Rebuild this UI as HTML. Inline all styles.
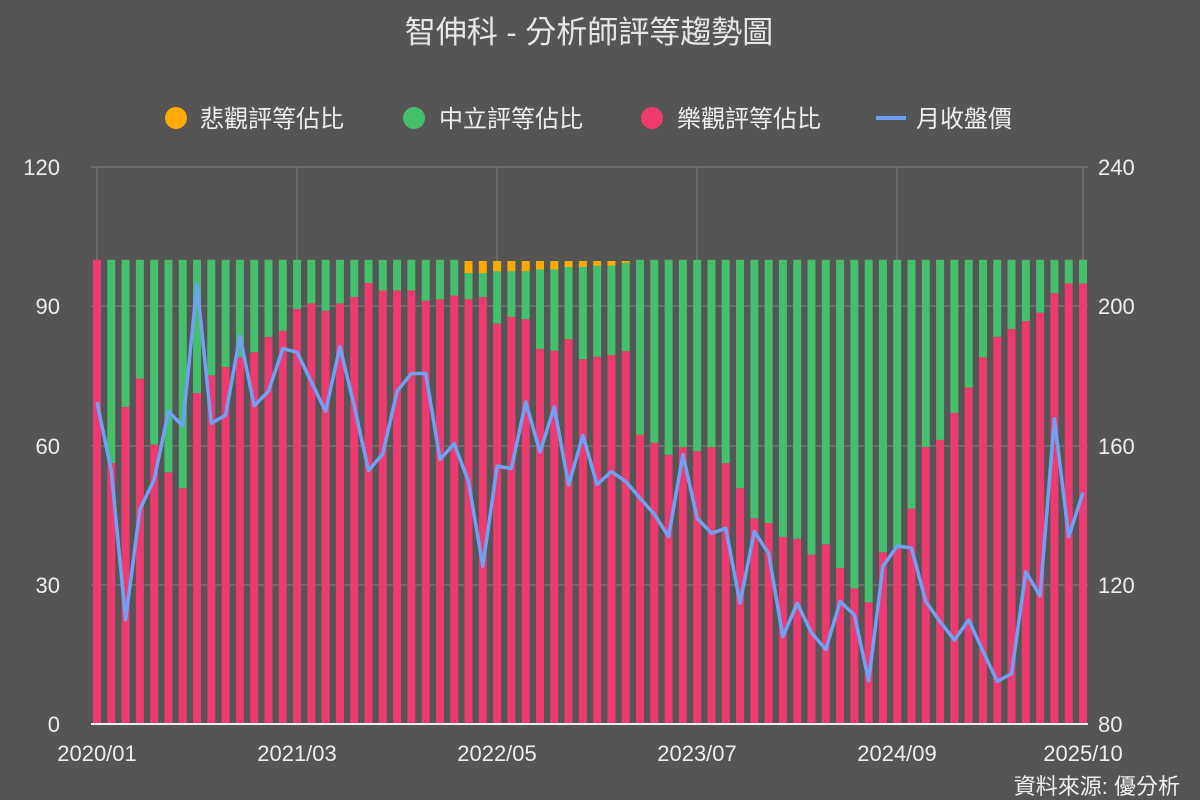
<!DOCTYPE html>
<html><head><meta charset="utf-8"><style>
html,body{margin:0;padding:0;background:#555555;}
svg{display:block;font-family:"Liberation Sans","Noto Sans CJK TC",sans-serif;}
</style></head><body>
<svg id="c" width="1200" height="800" xmlns="http://www.w3.org/2000/svg">
<rect width="1200" height="800" fill="#555555"/>
<text x="589" y="43" fill="#e6e6e6" font-size="31" text-anchor="middle">智伸科 - 分析師評等趨勢圖</text>
<circle cx="176" cy="118" r="11" fill="#ffaa00"/>
<text x="200" y="127" fill="#eeeeee" font-size="24">悲觀評等佔比</text>
<circle cx="414" cy="118" r="11" fill="#44bf6c"/>
<text x="439" y="127" fill="#eeeeee" font-size="24">中立評等佔比</text>
<circle cx="652" cy="118" r="11" fill="#ee3a6f"/>
<text x="677" y="127" fill="#eeeeee" font-size="24">樂觀評等佔比</text>
<line x1="876" y1="118" x2="906" y2="118" stroke="#6fa2f7" stroke-width="4"/>
<text x="916" y="127" fill="#eeeeee" font-size="24">月收盤價</text>
<g id="grid" stroke="#7a7a7a" stroke-width="1.2"></g>
<g id="bars"></g>
<g id="ln"></g>
<line x1="91" y1="724" x2="1088" y2="724" stroke="#f0f0f0" stroke-width="2"/>
<g fill="#eeeeee" font-size="22">
<text x="60" y="732" text-anchor="end">0</text>
<text x="60" y="593" text-anchor="end">30</text>
<text x="60" y="454" text-anchor="end">60</text>
<text x="60" y="314" text-anchor="end">90</text>
<text x="60" y="175" text-anchor="end">120</text>
<text x="1098" y="732">80</text>
<text x="1098" y="593">120</text>
<text x="1098" y="454">160</text>
<text x="1098" y="314">200</text>
<text x="1098" y="175">240</text>
<text x="97" y="761" text-anchor="middle">2020/01</text>
<text x="297" y="761" text-anchor="middle">2021/03</text>
<text x="497" y="761" text-anchor="middle">2022/05</text>
<text x="697" y="761" text-anchor="middle">2023/07</text>
<text x="897" y="761" text-anchor="middle">2024/09</text>
<text x="1083" y="761" text-anchor="middle">2025/10</text>
</g>
<text x="1180" y="794" fill="#eeeeee" font-size="22" text-anchor="end">資料來源: 優分析</text>
</svg>
<script>
var bull=[100,56.2,68.3,74.4,60.2,54.2,50.8,71.3,75.1,76.9,79,80.1,83.4,84.7,89.4,90.6,89.0,90.6,92.0,95.0,93.4,93.4,93.4,91.2,91.5,92.3,91.5,92.0,86.3,87.7,87.2,80.8,80.4,82.9,78.6,79.1,79.5,80.3,62.3,60.6,58.0,59.6,58.8,59.6,56.2,50.8,44.3,43.3,40.3,39.9,36.5,38.7,33.6,29.2,26.2,37.0,37.9,46.4,59.7,61.2,67.0,72.5,79.0,83.4,85.1,86.8,88.6,92.8,94.9,94.9];
var bear={26:2.6,27:2.6,28:2.2,29:2.2,30:2.2,31:1.8,32:1.8,33:1.3,34:1.3,35:1.0,36:1.0,37:0.4};
var px=[172.5,152.8,109.9,141.7,150.2,169.8,165.6,206.4,166.4,168.7,191.5,171.4,175.6,187.8,186.8,178.3,169.8,188.4,171.4,152.8,157.6,175.6,180.7,180.7,156.0,160.5,149.7,125.3,154.1,153.4,172.5,158.1,171.1,148.6,162.9,148.8,152.5,149.7,144.9,140.3,133.8,157.4,139.1,134.8,136.2,114.7,135.3,129.0,105.1,114.7,106.2,101.4,115.2,111.3,92.4,125.3,131.1,130.6,115.2,109.4,104.1,109.9,100.9,92.2,94.5,123.7,116.8,167.7,133.8,146.5];
var NS="http://www.w3.org/2000/svg";
function el(p,t,a){var e=document.createElementNS(NS,t);for(var k in a)e.setAttribute(k,a[k]);p.appendChild(e);return e;}
var g=document.getElementById('grid');
[167,306,446,585].forEach(function(y){el(g,'line',{x1:91,x2:1088,y1:y,y2:y});});
[97,297,497,697,897,1083].forEach(function(x){el(g,'line',{x1:x,x2:x,y1:167,y2:724});});
var b=document.getElementById('bars');
var k=4.642;
function X(i){return 97+i*(986/69);}
for(var i=0;i<70;i++){
 var x=X(i)-4;
 var br=bear[i]||0, bu=bull[i], ne=100-bu-br;
 var yb=724-bu*k;
 el(b,'rect',{x:x,y:yb,width:8,height:bu*k,fill:'#ee3a6f'});
 if(ne>0)el(b,'rect',{x:x,y:yb-ne*k,width:8,height:ne*k,fill:'#44bf6c'});
 if(br>0)el(b,'rect',{x:x,y:261,width:8,height:br*k,fill:'#ffaa00'});
}
var pts=px.map(function(p,i){return X(i).toFixed(1)+','+(724-(p-80)*3.481).toFixed(1);}).join(' ');
el(document.getElementById('ln'),'polyline',{points:pts,fill:'none',stroke:'#6fa2f7','stroke-width':3.5,'stroke-linejoin':'round'});
</script>
</body></html>
